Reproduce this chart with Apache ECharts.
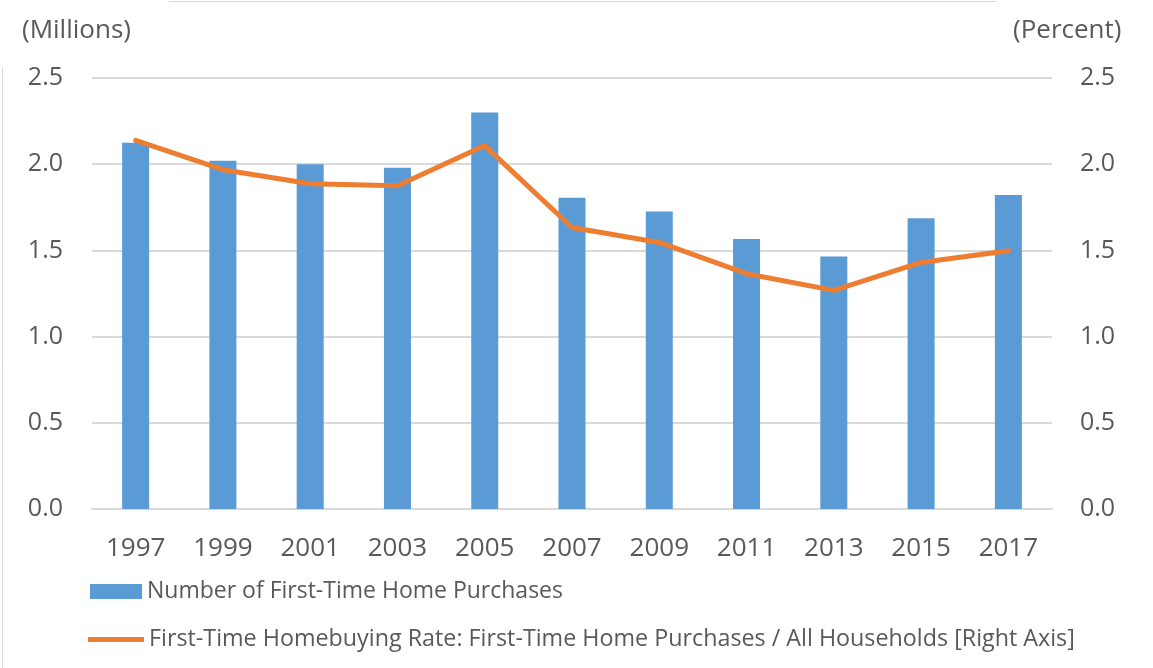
<!DOCTYPE html>
<html>
<head>
<meta charset="utf-8">
<script src="https://cdn.jsdelivr.net/npm/echarts@6/dist/echarts.min.js"></script>
<style>
html,body{margin:0;padding:0;background:#fff;}
#chart{width:1153px;height:668px;}
</style>
</head>
<body>
<div id="chart"></div>
<script>
const years = ['1997','1999','2001','2003','2005','2007','2009','2011','2013','2015','2017'];
const purchases = [2.125, 2.02, 2.00, 1.98, 2.30, 1.806, 1.725, 1.566, 1.464, 1.686, 1.821];
const rate = [2.138, 1.968, 1.887, 1.875, 2.108, 1.633, 1.546, 1.365, 1.268, 1.43, 1.498];
const yTicks = [0, 0.5, 1.0, 1.5, 2.0, 2.5];
const barName = 'Number of First-Time Home Purchases';
const lineName = 'First-Time Homebuying Rate: First-Time Home Purchases / All Households [Right Axis]';

const FONT = '"Open Sans", "Noto Sans", sans-serif';
const TXT = '#595959';

const chart = echarts.init(document.getElementById('chart'), null, {renderer:'canvas'});
chart.setOption({
  animation:false,
  backgroundColor:'#fff',
  grid:{left:92, right:101, top:78, bottom:159, containLabel:false},
  graphic:[
    {type:'line', shape:{x1:169,y1:1.5,x2:997,y2:1.5}, style:{stroke:'#d9d9d9', lineWidth:1}},
    {type:'line', shape:{x1:2.5,y1:67,x2:2.5,y2:668}, style:{stroke:'#d9d9d9', lineWidth:1}},
    {type:'text', left:22, top:18, style:{text:'(Millions)', fill:TXT, font:'26px '+FONT}},
    {type:'text', left:1013, top:18, style:{text:'(Percent)', fill:TXT, font:'26px '+FONT}}
  ],
  legend:[
    {data:[{name:barName, icon:'rect'}], left:90, top:580, padding:0, itemWidth:52, itemHeight:15,
     textStyle:{color:TXT, fontSize:23, fontFamily:FONT}, selectedMode:false},
    {data:[{name:lineName, icon:'rect'}], left:88, top:628, padding:0, itemWidth:56, itemHeight:5,
     textStyle:{color:TXT, fontSize:23.3, fontFamily:FONT}, selectedMode:false}
  ],
  xAxis:{
    type:'category', data:years,
    axisLine:{show:true, lineStyle:{color:'#d9d9d9', width:2}},
    axisTick:{show:false},
    axisLabel:{color:TXT, fontSize:26, fontFamily:FONT, margin:27}
  },
  yAxis:[
    {type:'value', min:0, max:2.5, interval:0.5,
     axisLine:{show:false}, axisTick:{show:false},
     splitLine:{lineStyle:{color:'#d9d9d9', width:2}},
     axisLabel:{color:TXT, fontSize:25, fontFamily:FONT, margin:29, formatter:v=>v.toFixed(1)}},
    {type:'value', min:0, max:2.5, interval:0.5, position:'right',
     axisLine:{show:false}, axisTick:{show:false}, splitLine:{show:false},
     axisLabel:{color:TXT, fontSize:25, fontFamily:FONT, margin:28, formatter:v=>v.toFixed(1)}}
  ],
  series:[
    {name:barName, type:'bar', data:purchases, yAxisIndex:0, barWidth:27,
     itemStyle:{color:'#5b9bd5'}},
    {name:lineName, type:'line', data:rate, yAxisIndex:1, showSymbol:false, symbol:'none',
     lineStyle:{color:'#ed7d31', width:5, cap:'round', join:'round'}, itemStyle:{color:'#ed7d31'}}
  ]
});
</script>
</body>
</html>
